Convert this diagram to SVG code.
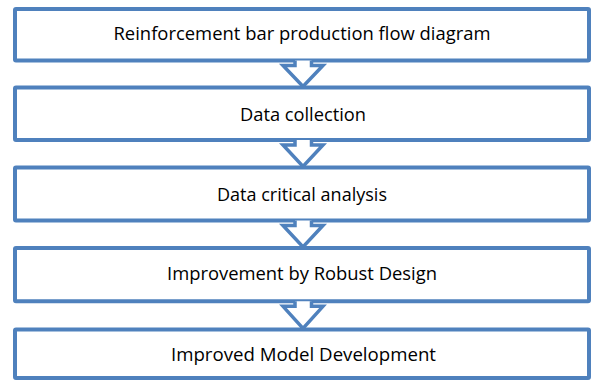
<svg xmlns="http://www.w3.org/2000/svg" width="592" height="381" viewBox="0 0 592 381">
<style>
.box{fill:#FFFFFF;stroke:#4F81BD;stroke-width:4}
.arr{fill:#FFFFFF;stroke:#4F81BD;stroke-width:3.5;stroke-linejoin:miter}
.lbl{font-family:"Open Sans","Noto Sans","Liberation Sans",sans-serif;font-size:19px;fill:#000000;text-anchor:middle}
</style>
<rect width="592" height="381" fill="#FFFFFF"/>
<g id="node1"><rect class="box" x="15" y="9" width="574" height="51.5" rx="1"/><text class="lbl" x="302" y="39.5" textLength="377" lengthAdjust="spacingAndGlyphs">Reinforcement bar production flow diagram</text></g>
<g id="node2"><rect class="box" x="15" y="87.5" width="574" height="52.5" rx="1"/><text class="lbl" x="303" y="121" textLength="126" lengthAdjust="spacingAndGlyphs">Data collection</text></g>
<g id="node3"><rect class="box" x="15" y="167.5" width="574" height="53" rx="1"/><text class="lbl" x="302" y="200.5" textLength="170" lengthAdjust="spacingAndGlyphs">Data critical analysis</text></g>
<g id="node4"><rect class="box" x="15" y="248" width="574" height="53.3" rx="1"/><text class="lbl" x="302" y="280" textLength="270" lengthAdjust="spacingAndGlyphs">Improvement by Robust Design</text></g>
<g id="node5"><rect class="box" x="15" y="329.5" width="574" height="48.5" rx="1"/><text class="lbl" x="303.5" y="361" textLength="265" lengthAdjust="spacingAndGlyphs">Improved Model Development</text></g>
<g id="connectors">
<path class="arr" d="M295,60.5 V65.5 H283 L303,86.5 L323,65.5 H311.5 V60.5"/>
<path class="arr" d="M295,140 V145 H283 L303,166.5 L323,145 H311.5 V140"/>
<path class="arr" d="M295,220.5 V225.5 H283 L303,247 L323,225.5 H311.5 V220.5"/>
<path class="arr" d="M295,301.3 V306.3 H283 L303,328.5 L323,306.3 H311.5 V301.3"/>
</g>
</svg>
